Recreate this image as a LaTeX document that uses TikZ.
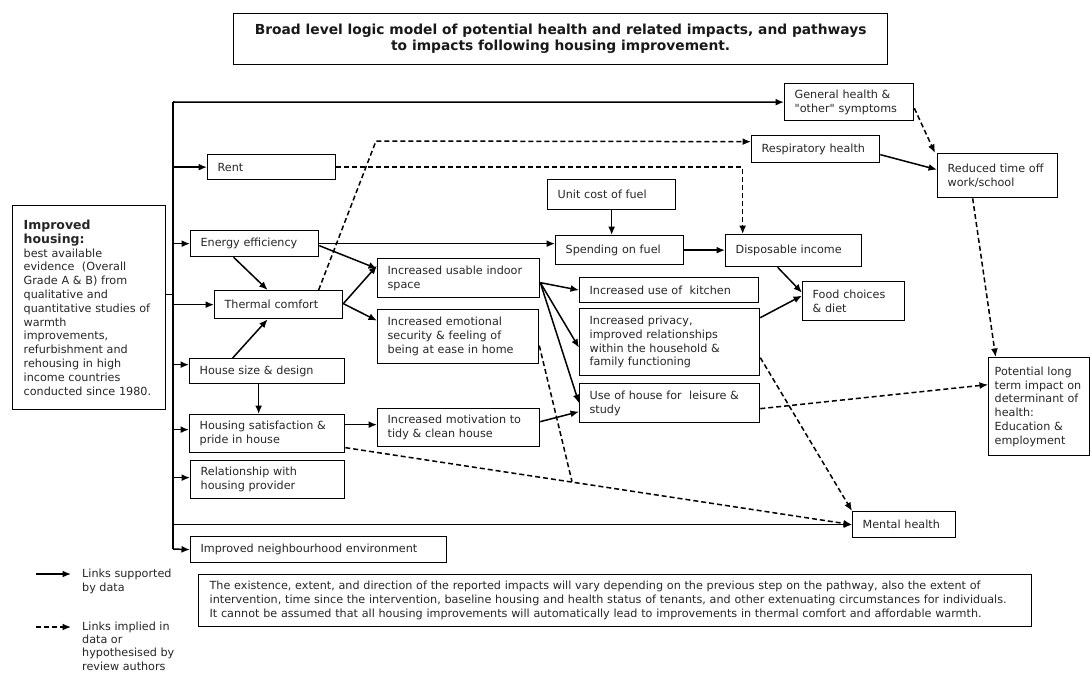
\documentclass[tikz,border=0pt]{standalone}
\usepackage{fontspec}
\setmainfont{DejaVu Sans}
\usetikzlibrary{arrows.meta,calc}
\newcommand\bodyfs{\fontsize{11.2}{13.8}\selectfont}
\newcommand\headfs{\fontsize{12.5}{14}\selectfont\bfseries}
\newcommand\sq{\XeTeXglyph\XeTeXcharglyph"22\relax}
\tikzset{
  box/.style={draw=black, line width=1.3pt, anchor=north west, align=left, inner xsep=10pt, inner ysep=2pt, font=\bodyfs, text=black!85},
  conn/.style={line width=1.5pt, -{Latex[length=8.5pt,width=7pt]}},
  dconn/.style={conn, dash pattern=on 5pt off 3pt},
  plainline/.style={line width=1.5pt},
  dline/.style={line width=1.5pt, dash pattern=on 5pt off 3pt},
  legtext/.style={anchor=north west, inner sep=0pt, align=left, font=\bodyfs, text=black!85},
}
\begin{document}
\begin{tikzpicture}[x=1pt,y=-1pt]
\fill[white] (0,0) rectangle (1091,674);
\useasboundingbox (0,0) rectangle (1091,674);

% title
\node[draw=black, line width=1.3pt, anchor=north west, minimum width=654pt, minimum height=51pt, align=center,
      font=\fontsize{13.8}{16}\selectfont\bfseries, text=black!90] (title) at (233,13)
  {Broad level logic model of potential health and related impacts, and pathways\\to impacts following housing improvement.};

% left box
\node[box, minimum width=153pt, minimum height=204pt, text width=131pt, inner xsep=11pt] (house) at (12,205)
  {{\headfs Improved}\\{\headfs housing:}\\best available\\evidence\ \ (Overall\\Grade A \& B) from\\qualitative and\\quantitative~studies~of\\warmth\\improvements,\\refurbishment and\\rehousing in high\\income countries\\conducted since 1980.};

% first column
\node[box, minimum width=128pt, minimum height=25pt, text width=108pt] (rent) at (207,154) {Rent};
\node[box, minimum width=128pt, minimum height=26pt, text width=108pt] (ee) at (190,230) {Energy efficiency};
\node[box, minimum width=128pt, minimum height=28pt, text width=108pt] (thermal) at (214,290) {Thermal comfort};
\node[box, minimum width=155pt, minimum height=25pt, text width=135pt] (hsize) at (189,358) {House size \& design};
\node[box, minimum width=155pt, minimum height=38pt, text width=135pt] (hsat) at (189,414) {Housing satisfaction \&\\pride in house};
\node[box, minimum width=154pt, minimum height=38pt, text width=134pt] (rel) at (190,460) {Relationship with\\housing provider};
\node[box, minimum width=256pt, minimum height=26pt, text width=236pt] (neigh) at (190,536) {Improved neighbourhood environment};

% second column
\node[box, minimum width=162pt, minimum height=39pt, text width=142pt] (usable) at (377,258) {Increased usable indoor\\space};
\node[box, minimum width=161pt, minimum height=54pt, text width=141pt] (emot) at (377,309) {Increased emotional\\security \& feeling of\\being at ease in home};
\node[box, minimum width=162pt, minimum height=38pt, text width=142pt] (motiv) at (377,408) {Increased motivation to\\tidy \& clean house};

% third column
\node[box, minimum width=128pt, minimum height=30pt, text width=108pt] (unitcost) at (547,179) {Unit cost of fuel};
\node[box, minimum width=128pt, minimum height=29pt, text width=108pt] (spend) at (555,235) {Spending on fuel};
\node[box, minimum width=179pt, minimum height=25pt, text width=159pt] (kitchen) at (579,277) {Increased use of\ \ kitchen};
\node[box, minimum width=180pt, minimum height=67pt, text width=160pt] (privacy) at (579,308) {Increased privacy,\\improved relationships\\within the household \&\\family functioning};
\node[box, minimum width=180pt, minimum height=39pt, text width=160pt] (leisure) at (579,383) {Use of house for\ \ leisure \&\\study};

% right part
\node[box, minimum width=136pt, minimum height=32pt, text width=116pt] (dispinc) at (725,234) {Disposable income};
\node[box, minimum width=129pt, minimum height=37pt, text width=109pt] (gh) at (784,83) {General health \&\\\sq other\sq{} symptoms};
\node[box, minimum width=128pt, minimum height=27pt, text width=108pt] (resp) at (751,135) {Respiratory~health};
\node[box, minimum width=120pt, minimum height=44pt, text width=100pt] (reduced) at (937,153) {Reduced~time~off\\work/school};
\node[box, minimum width=102pt, minimum height=39pt, text width=82pt] (food) at (802,281) {Food choices\\\& diet};
\node[box, minimum width=101pt, minimum height=98pt, text width=89pt, inner xsep=6pt] (potential) at (988,357) {Potential~long\\term~impact~on\\determinant~of\\health:\\Education~\&\\employment};
\node[box, minimum width=103pt, minimum height=26pt, text width=83pt] (mental) at (852,511) {Mental health};

% note
\node[box, minimum width=833pt, minimum height=52pt, text width=811pt, inner xsep=11pt] (note) at (198,574)
  {The existence, extent, and direction of the reported impacts will vary depending on the previous step on the pathway, also the extent of\\intervention, time since the intervention, baseline housing and health status of tenants, and other extenuating circumstances for individuals.\\It cannot be assumed that all housing improvements will automatically lead to improvements in thermal comfort and affordable warmth.};

% trunk
\coordinate (t0) at (173,102);
\coordinate (tEnd) at (173,549);
\draw[plainline] (t0) -- (tEnd);
\draw[conn] (t0) -- (gh.west);
\draw[conn] (tEnd) -- (neigh.west);
\coordinate (hout) at ([yshift=13pt]house.east);
\draw[plainline] (hout) -- (hout -| t0);
\draw[conn] (rent.west -| t0) -- (rent.west);
\draw[conn] (ee.west -| t0) -- (ee.west);
\draw[conn] (thermal.west -| t0) -- (thermal.west);
\coordinate (hsin) at ([yshift=6.5pt]hsize.west);
\draw[conn] (hsin -| t0) -- (hsin);
\coordinate (hsatin) at ([yshift=4pt]hsat.west);
\draw[conn] (hsatin -| t0) -- (hsatin);
\coordinate (relin) at ([yshift=2pt]rel.west);
\draw[conn] (relin -| t0) -- (relin);
\draw[conn] (mental.west -| t0) -- (mental.west);

% solid links
\draw[conn] ([xshift=-21pt]ee.south) -- ([xshift=-11pt]thermal.north);
\draw[conn] ([xshift=-34.5pt]hsize.north) -- ([xshift=-11pt]thermal.south);
\draw[conn] ([xshift=-8.5pt]hsize.south) -- ([xshift=-8.5pt]hsat.north);
\draw[conn] ([yshift=-2pt]ee.east) -- ([yshift=9.5pt]usable.west);
\draw[conn] ([yshift=1pt]thermal.east) -- ([yshift=12.5pt]usable.west);
\draw[conn] ([yshift=1pt]thermal.east) -- ([yshift=16pt]emot.west);
\draw[conn] (ee.east) -- (ee.east -| spend.west);
\draw[conn] (unitcost.south) -- (unitcost.south |- spend.north);
\draw[conn] (spend.east) -- (spend.east -| dispinc.west);
\draw[conn] ([yshift=-4.5pt]usable.east) -- (kitchen.west);
\draw[conn] ([yshift=-4.5pt]usable.east) -- ([yshift=-5.5pt]privacy.west);
\draw[conn] ([yshift=-4.5pt]usable.east) -- (leisure.west);
\draw[conn] ([yshift=6pt]motiv.east) -- ([yshift=-8.5pt]leisure.west);
\coordinate (hm) at ([yshift=9pt]hsat.east);
\draw[conn] (hm) -- (hm -| motiv.west);
\draw[conn] ([xshift=-16pt]dispinc.south) -- ([yshift=8.5pt]food.west);
\draw[conn] ([yshift=24.5pt]privacy.east) -- ([yshift=5.5pt]food.west);
\draw[conn] ([yshift=-5.5pt]resp.east) -- ([yshift=6pt]reduced.west);

% dashed links
\draw[dconn] (rent.east) -| ([xshift=-51pt]dispinc.north);
\coordinate (bend) at (376,141);
\draw[dconn] ([xshift=40pt]thermal.north) -- (bend) -- ([yshift=7.5pt]resp.west);
\draw[dconn] ([yshift=-6pt]gh.east) -- ([xshift=-2pt]reduced.north west);
\draw[dconn] ([xshift=-25pt]reduced.south) -- ([xshift=-43.5pt]potential.north);
\draw[dconn] ([yshift=-14pt]hsat.east) -- (mental.west);
\coordinate (merge) at (572,481.6);
\draw[dline] ([yshift=-9pt]emot.east) -- (merge);
\draw[dconn] ([yshift=-15.5pt]privacy.east) -- (mental.north west);
\draw[dconn] ([yshift=-5.5pt]leisure.east) -- ([yshift=22pt]potential.west);

% legend
\coordinate (la) at (36,574);
\coordinate (lb) at (71,574);
\draw[conn] (la) -- (lb);
\node[legtext] (ltx1) at (82,569) {Links supported\\by data};
\coordinate (lc) at (36,627);
\coordinate (ld) at (71,627);
\draw[dconn] (lc) -- (ld);
\node[legtext, font=\fontsize{11.2}{13.3}\selectfont] (ltx2) at (82,621.5) {Links implied in\\data or\\hypothesised by\\review authors};
\end{tikzpicture}
\end{document}
